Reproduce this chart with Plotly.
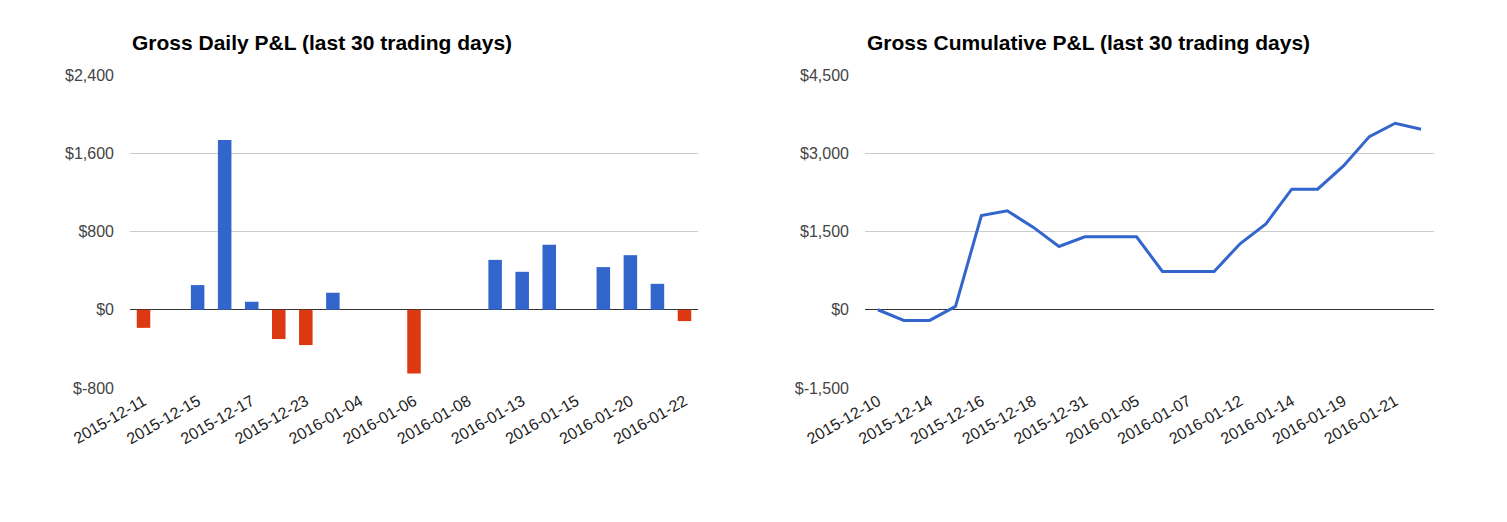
import plotly.graph_objects as go

# 일별 손익 (왼쪽 막대)
daily_dates = ['2015-12-11', '2015-12-14', '2015-12-15', '2015-12-16', '2015-12-17',
               '2015-12-18', '2015-12-23', '2015-12-31', '2016-01-04', '2016-01-05',
               '2016-01-06', '2016-01-07', '2016-01-08', '2016-01-12', '2016-01-13',
               '2016-01-14', '2016-01-15', '2016-01-19', '2016-01-20', '2016-01-21',
               '2016-01-22']
daily_pnl = [-185, 0, 252, 1735, 82, -300, -361, 174, 0, 0,
             -653, 0, 0, 510, 388, 664, 0, 436, 558, 265, -116]

# 누적 손익 (오른쪽 선)
cum_dates = ['2015-12-10'] + daily_dates
cum_pnl = [0, -205, -205, 64, 1806, 1896, 1583, 1213, 1398, 1398, 1398,
           734, 734, 734, 1264, 1647, 2311, 2311, 2758, 3319, 3575, 3460]

daily_yticks = [-800, 0, 800, 1600, 2400]
cum_yticks = [-1500, 0, 1500, 3000, 4500]

BLUE = '#3366cc'
RED = '#dc3912'


def money(v):
    return '$' + format(v, ',')


bar_colors = [BLUE if v >= 0 else RED for v in daily_pnl]

fig = go.Figure()
fig.add_trace(go.Bar(
    x=daily_dates, y=daily_pnl,
    marker=dict(color=bar_colors, line=dict(width=0)),
    xaxis='x', yaxis='y', showlegend=False,
))
fig.add_trace(go.Scatter(
    x=cum_dates, y=cum_pnl, mode='lines',
    line=dict(color=BLUE, width=3),
    xaxis='x2', yaxis='y2', showlegend=False,
))

W, H = 1507, 522
OFF = 8  # 페이지 body 여백 보정


def px_x(p):
    return (p - OFF) / W


def px_y(p):
    return 1 - (p - OFF) / H


ydom = [px_y(388), px_y(75)]

tick_font = dict(family='Arial', size=16, color='#444')
xtick_font = dict(family='Arial', size=16, color='#222')

common_y = dict(
    showgrid=True, gridcolor='#cccccc', gridwidth=1,
    zeroline=True, zerolinecolor='#333333', zerolinewidth=1,
    showline=False, ticks='', tickfont=tick_font, ticklabelstandoff=15,
    automargin=False,
)
common_x = dict(
    type='category', showgrid=False, zeroline=False, showline=False,
    ticks='', tickangle=-30, tickfont=xtick_font, automargin=False,
)

fig.update_layout(
    width=W, height=H,
    autosize=False,
    margin=dict(l=0, r=0, t=0, b=0, pad=0, autoexpand=False),
    paper_bgcolor='white', plot_bgcolor='white',
    bargap=0.5,
    xaxis=dict(domain=[px_x(130), px_x(698)], range=[-0.5, len(daily_dates) - 0.5],
               tickvals=daily_dates[::2], ticktext=daily_dates[::2], **common_x),
    yaxis=dict(domain=ydom, range=[-800, 2400], tickvals=daily_yticks,
               ticktext=[money(v) for v in daily_yticks], **common_y),
    xaxis2=dict(domain=[px_x(865), px_x(1434)], range=[-0.5, len(cum_dates) - 0.5],
                tickvals=cum_dates[::2], ticktext=cum_dates[::2],
                anchor='y2', **common_x),
    yaxis2=dict(domain=ydom, range=[-1500, 4500], tickvals=cum_yticks,
                ticktext=[money(v) for v in cum_yticks], anchor='x2', **common_y),
    annotations=[
        dict(text='<b>Gross Daily P&L (last 30 trading days)</b>',
             x=px_x(130), y=px_y(42), xref='paper', yref='paper',
             xanchor='left', yanchor='middle', showarrow=False,
             font=dict(family='Arial', size=21, color='black')),
        dict(text='<b>Gross Cumulative P&L (last 30 trading days)</b>',
             x=px_x(865), y=px_y(42), xref='paper', yref='paper',
             xanchor='left', yanchor='middle', showarrow=False,
             font=dict(family='Arial', size=21, color='black')),
    ],
)

fig.write_html('out.html')
